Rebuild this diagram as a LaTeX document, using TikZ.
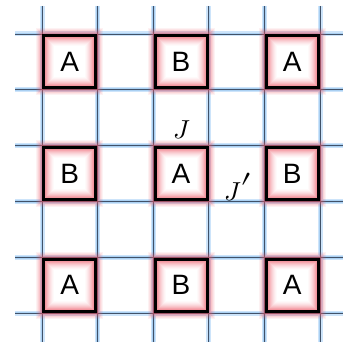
\documentclass[tikz,border=0pt]{standalone}
\usepackage{fontspec}
\setmainfont{Liberation Sans}
\newfontfamily\lmm{Latin Modern Math}
\definecolor{glowc}{RGB}{235,85,100}
\definecolor{gridglowc}{RGB}{205,228,250}
\definecolor{gridglowc2}{RGB}{170,208,242}
\definecolor{gridcorec}{RGB}{65,82,105}
\begin{document}
\begin{tikzpicture}[x=1pt,y=-1pt,
  gridglowA/.style={line width=5pt, draw=gridglowc},
  gridglowB/.style={line width=2.6pt, draw=gridglowc2},
  gridcore/.style={line width=0.9pt, draw=gridcorec},
  cell/.style={draw=black, line width=3pt, minimum size=52pt, inner sep=0pt, outer sep=0pt, font=\fontsize{28}{32}\selectfont},
  lbl/.style={font=\fontsize{26}{32}\selectfont\lmm, inner sep=0pt}
]
\useasboundingbox (0,0) rectangle (343,342);
% grid
\foreach \s in {gridglowA,gridglowB,gridcore}{
  \foreach \x in {42,97.6,153.2,208.8,264.4,320} {\draw[\s] (\x,6) -- (\x,345);}
  \foreach \y in {34,89.8,145.6,201.4,257.2,313} {\draw[\s] (15,\y) -- (346,\y);}
}
% boxes
\node[cell] (b11) at (69.8,61.9) {A};
\node[cell] (b12) at (181,61.9) {B};
\node[cell] (b13) at (292.2,61.9) {A};
\node[cell] (b21) at (69.8,173.5) {B};
\node[cell] (b22) at (181,173.5) {A};
\node[cell] (b23) at (292.2,173.5) {B};
\node[cell] (b31) at (69.8,285.1) {A};
\node[cell] (b32) at (181,285.1) {B};
\node[cell] (b33) at (292.2,285.1) {A};
% glows
\foreach \n in {b11,b12,b13,b21,b22,b23,b31,b32,b33}{
  \foreach \d/\o in {2/0.62,3/0.52,4/0.42,5/0.33,6/0.25,7/0.18,8/0.12,9/0.07,10/0.03}{
    \draw[glowc, line width=1pt, opacity=\o] ([shift={(\d pt,-\d pt)}]\n.north west) rectangle ([shift={(-\d pt,\d pt)}]\n.south east);
  }
  \foreach \d/\o in {2/0.55,3/0.45,4/0.35,5/0.25,6/0.16,7/0.08}{
    \draw[glowc, line width=1pt, opacity=\o] ([shift={(-\d pt,\d pt)}]\n.north west) rectangle ([shift={(\d pt,-\d pt)}]\n.south east);
  }
}
% labels
\node[lbl] (J) at (181,130) {𝐽};
\node[lbl] (Jp) at (238.5,187) {𝐽\kern1pt\raisebox{-1pt}{\fontsize{38}{40}\selectfont ′}};
\end{tikzpicture}
\end{document}
